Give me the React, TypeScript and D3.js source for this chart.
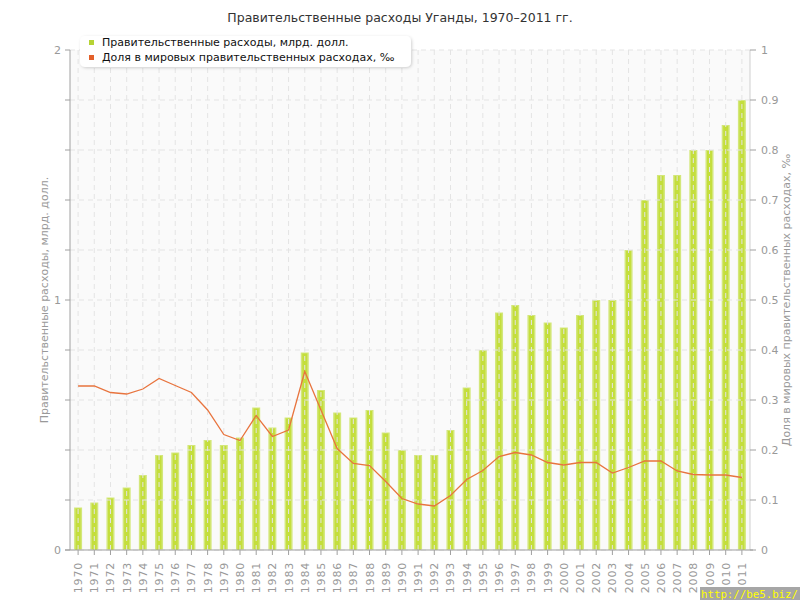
import React from 'react';
import * as d3 from 'd3';

const years = ["1970","1971","1972","1973","1974","1975","1976","1977","1978","1979","1980","1981","1982","1983","1984","1985","1986","1987","1988","1989","1990","1991","1992","1993","1994","1995","1996","1997","1998","1999","2000","2001","2002","2003","2004","2005","2006","2007","2008","2009","2010","2011"];

const spending = [0.17,0.19,0.21,0.25,0.30,0.38,0.39,0.42,0.44,0.42,0.45,0.57,0.49,0.53,0.79,0.64,0.55,0.53,0.56,0.47,0.40,0.38,0.38,0.48,0.65,0.80,0.95,0.98,0.94,0.91,0.89,0.94,1.00,1.00,1.20,1.40,1.50,1.50,1.60,1.60,1.70,1.80];

const share = [0.328,0.328,0.315,0.312,0.322,0.343,0.329,0.315,0.28,0.231,0.219,0.269,0.227,0.24,0.357,0.28,0.203,0.173,0.169,0.137,0.103,0.092,0.088,0.109,0.141,0.159,0.187,0.195,0.19,0.175,0.17,0.175,0.175,0.154,0.165,0.178,0.178,0.158,0.151,0.15,0.15,0.145];

const leftLabelTicks = [0, 1, 2];
const leftMinorTicks = [0, 0.2, 0.4, 0.6, 0.8, 1, 1.2, 1.4, 1.6, 1.8, 2];
const rightTicks = [0, 0.1, 0.2, 0.3, 0.4, 0.5, 0.6, 0.7, 0.8, 0.9, 1];

const title = "Правительственные расходы Уганды, 1970–2011 гг.";
const seriesNames = ["Правительственные расходы, млрд. долл.", "Доля в мировых правительственных расходах, ‰"];
const leftAxisTitle = "Правительственные расходы, млрд. долл.";
const rightAxisTitle = "Доля в мировых правительственных расходах, ‰";

export default function App() {
  const W = 800, H = 600;
  const L = 70, R = 750, T = 50, B = 550;
  const font = "DejaVu Sans, Verdana, sans-serif";
  const x = d3.scaleBand<string>().domain(years).range([L, R]);
  const yL = d3.scaleLinear().domain([0, 2]).range([B, T]);
  const yR = d3.scaleLinear().domain([0, 1]).range([B, T]);
  const cx = (y: string) => (x(y) as number) + x.bandwidth() / 2;
  const barW = 8;
  const linePath = d3.line<number>()
    .x((_, i) => cx(years[i]))
    .y(d => yR(d))(share) as string;
  const axisColor = "#a0a0a0";
  const textColor = "#999";

  return (
    <svg width={W} height={H} style={{ position: 'fixed', left: 0, top: 0, background: '#fff' }} fontFamily={font}>
      <defs>
        <filter id="sh" x="-5%" y="-20%" width="110%" height="150%">
          <feDropShadow dx="1" dy="1" stdDeviation="1.5" floodColor="#000" floodOpacity="0.18" />
        </filter>
      </defs>
      <text x={400} y={22} textAnchor="middle" fontSize={12.5} fill="#333">{title}</text>

      {/* plot background */}
      <rect x={L} y={T} width={R - L} height={B - T} fill="#fafafa" />

      {/* bars */}
      {spending.map((v, i) => (
        <g key={years[i]}>
          <rect x={cx(years[i]) - barW / 2} y={yL(v)} width={barW} height={B - yL(v)} fill="#d3e77a" />
          <rect x={cx(years[i]) - barW / 2 + 1.5} y={yL(v) + 1} width={barW - 3} height={B - yL(v) - 1} fill="#c4de3c" />
        </g>
      ))}

      {/* grid */}
      {rightTicks.map(t => (
        <line key={'h' + t} x1={L} x2={R} y1={yR(t)} y2={yR(t)} stroke="#e4e4e4" strokeDasharray="5,4" />
      ))}
      {years.map(y => (
        <line key={'v' + y} x1={cx(y)} x2={cx(y)} y1={T} y2={B} stroke="#e4e4e4" strokeDasharray="5,4" />
      ))}

      {/* line */}
      <path d={linePath} fill="none" stroke="#e8743e" strokeWidth={1.3} />

      {/* left axis */}
      <line x1={L} x2={L} y1={T} y2={B} stroke={axisColor} />
      {leftMinorTicks.map(t => (
        <line key={'lt' + t} x1={L - 5} x2={L} y1={yL(t)} y2={yL(t)} stroke={axisColor} />
      ))}
      {leftLabelTicks.map(t => (
        <text key={'ll' + t} x={61} y={yL(t) + 4} textAnchor="end" fontSize={11} fill={textColor}>{t}</text>
      ))}
      <text transform={`translate(48,${(T + B) / 2}) rotate(-90)`} textAnchor="middle" fontSize={11} fill={textColor}>{leftAxisTitle}</text>

      {/* right axis */}
      <line x1={R} x2={R} y1={T} y2={B} stroke="#d0d0d0" />
      {rightTicks.map(t => (
        <g key={'rt' + t}>
          <line x1={R} x2={R + 6} y1={yR(t)} y2={yR(t)} stroke={axisColor} />
          <text x={R + 11} y={yR(t) + 4} fontSize={11} fill={textColor}>{t}</text>
        </g>
      ))}
      <text transform={`translate(790,${(T + B) / 2}) rotate(-90)`} textAnchor="middle" fontSize={11} fill={textColor}>{rightAxisTitle}</text>

      {/* bottom axis */}
      <line x1={L - 5} x2={R + 3} y1={B} y2={B} stroke={axisColor} />
      {years.map(y => (
        <g key={'xt' + y}>
          <line x1={cx(y)} x2={cx(y)} y1={B} y2={B + 5} stroke={axisColor} />
          <text transform={`translate(${cx(y) + 4},${B + 12}) rotate(-90)`} textAnchor="end" fontSize={11} fill={textColor} letterSpacing={0.8}>{y}</text>
        </g>
      ))}

      {/* legend */}
      <rect x={80} y={36} width={331} height={31} rx={5} fill="#fff" filter="url(#sh)" />
      <rect x={89} y={40} width={5} height={5} fill="#b6d334" />
      <text x={102} y={46} fontSize={11} fill="#111">{seriesNames[0]}</text>
      <rect x={89} y={55} width={5} height={5} fill="#e3602a" />
      <text x={102} y={61} fontSize={11} fill="#111">{seriesNames[1]}</text>

      {/* watermark */}
      <rect x={700} y={587} width={100} height={13} fill="#a6a6a6" />
      <text x={701} y={598} fontSize={11} textLength={97} lengthAdjust="spacingAndGlyphs" fill="#ffff00" fontFamily="DejaVu Sans Mono, monospace">http://be5.biz/</text>
    </svg>
  );
}
